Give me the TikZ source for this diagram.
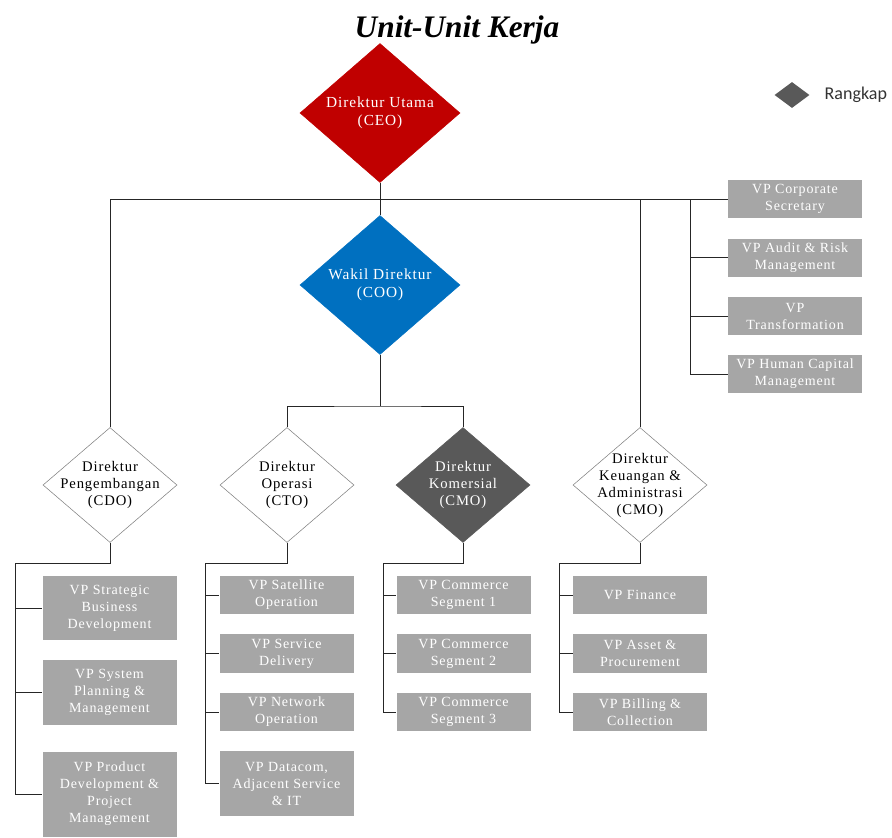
\documentclass[tikz,border=0pt]{standalone}
\usepackage{fontspec}
\setmainfont{Liberation Serif}
\newfontfamily\spacedfont[LetterSpace=6]{Liberation Serif}
\newfontfamily\legendfont{Carlito}
\usetikzlibrary{shapes.geometric,positioning}
\definecolor{ceored}{HTML}{C00000}
\definecolor{cooblue}{HTML}{0070C0}
\definecolor{rangkap}{HTML}{595959}
\definecolor{vpgray}{HTML}{A6A6A6}
\newcommand{\px}{0.75pt}

\begin{document}
\begin{tikzpicture}[x=\px,y=-\px,
	every label/.style={align=center,font=\spacedfont\fontsize{11}{12.75}\selectfont},
	title/.style={font=\fontsize{23.5}{27}\selectfont\bfseries\itshape},
	dir/.style={diamond,draw=gray,thin,fill=white,inner sep=0pt,minimum width=134*\px,minimum height=115*\px},
	bigdir/.style={dir,minimum width=160*\px,minimum height=139*\px},
	vp/.style={rectangle,fill=vpgray,text=white,align=center,inner sep=1pt,minimum width=134*\px,minimum height=38*\px,font=\spacedfont\fontsize{10.5}{12.75}\selectfont},
	link/.style={draw=black!85,line width=0.6pt}]
	\useasboundingbox (0,0) rectangle (892,838);
	\node[title] (title) at (457,30) {Unit-Unit Kerja};
	% direksi
	\node[bigdir,fill=ceored,draw=ceored,label={[text=white,font=\spacedfont\fontsize{11.5}{13.5}\selectfont]center:Direktur Utama\\(CEO)}] (ceo) at (380,113) {};
	\node[bigdir,fill=cooblue,draw=cooblue,label={[text=white,font=\spacedfont\fontsize{11.5}{13.5}\selectfont]center:Wakil Direktur\\(COO)}] (coo) at (380,285) {};
	\node[dir,label=center:Direktur\\Pengembangan\\(CDO)] (cdo) at (110,485) {};
	\node[dir,label=center:Direktur\\Operasi\\(CTO)] (cto) at (287,485) {};
	\node[dir,fill=rangkap,draw=rangkap,label={[text=white]center:Direktur\\Komersial\\(CMO)}] (cmo) at (463,485) {};
	\node[dir,label=center:Direktur\\Keuangan \&\\Administrasi\\(CMO)] (cfo) at (640,485) {};
	% legenda
	\node[diamond,fill=rangkap,inner sep=0pt,minimum width=35*\px,minimum height=26*\px] (legend) at (792,95) {};
	\node[right=11pt of legend,inner sep=0pt,font=\legendfont\fontsize{13.5}{16}\selectfont,text=black!80] (legendtext) {Rangkap};
	% VP di bawah CEO
	\node[vp] (vpcs) at (795,199) {VP Corporate\\Secretary};
	\node[vp] (vpar) at (795,257.5) {VP Audit \& Risk\\Management};
	\node[vp] (vptr) at (795,316) {VP\\Transformation};
	\node[vp] (vphc) at (795,374) {VP Human Capital\\Management};
	% VP di bawah CDO
	\node[vp,minimum height=64*\px] (vpsbd) at (109.5,608) {VP Strategic\\Business\\Development};
	\node[vp,minimum height=65*\px] (vpspm) at (109.5,692.5) {VP System\\Planning \&\\Management};
	\node[vp,minimum height=85*\px] (vppd) at (109.5,794) {VP Product\\Development \&\\Project\\Management};
	% VP di bawah CTO
	\node[vp] (vpso) at (286.5,595) {VP Satellite\\Operation};
	\node[vp,minimum height=39*\px] (vpsd) at (286.5,653.5) {VP Service\\Delivery};
	\node[vp] (vpno) at (286.5,712) {VP Network\\Operation};
	\node[vp,minimum height=65*\px] (vpdc) at (286.5,783.5) {VP Datacom,\\Adjacent Service\\\& IT};
	% VP di bawah CMO
	\node[vp] (vpcs1) at (463.5,595) {VP Commerce\\Segment 1};
	\node[vp,minimum height=39*\px] (vpcs2) at (463.5,653.5) {VP Commerce\\Segment 2};
	\node[vp] (vpcs3) at (463.5,712) {VP Commerce\\Segment 3};
	% VP di bawah CFO
	\node[vp] (vpfin) at (640,595) {VP Finance};
	\node[vp,minimum height=39*\px] (vpap) at (640,653.5) {VP Asset \&\\Procurement};
	\node[vp] (vpbc) at (640,712) {VP Billing \&\\Collection};
	% garis
	\coordinate (rbus) at (690,199);
	\coordinate (cooj) at (380,406);
	\draw[link] (cdo.north) |- (vpcs.west);
	\draw[link] (ceo.south) -- (coo.north);
	\draw[link] (cfo.north) -- (cfo.north |- vpcs.west);
	\foreach \b in {vpar,vptr,vphc}
		\draw[link] (rbus) |- (\b.west);
	\draw[link] (coo.south) -- (cooj);
	\draw[link] (cto.north) |- (cooj) -| (cmo.north);
	\coordinate (cdoj) at (15,563);
	\coordinate (ctoj) at (205,563);
	\coordinate (cmoj) at (383,563);
	\coordinate (cfoj) at (559,563);
	\draw[link] (cdo.south) |- (cdoj);
	\draw[link] (cto.south) |- (ctoj);
	\draw[link] (cmo.south) |- (cmoj);
	\draw[link] (cfo.south) |- (cfoj);
	\foreach \b in {vpsbd,vpspm,vppd}
		\draw[link] (cdoj) |- (\b.west);
	\foreach \b in {vpso,vpsd,vpno,vpdc}
		\draw[link] (ctoj) |- (\b.west);
	\foreach \b in {vpcs1,vpcs2,vpcs3}
		\draw[link] (cmoj) |- (\b.west);
	\foreach \b in {vpfin,vpap,vpbc}
		\draw[link] (cfoj) |- (\b.west);
\end{tikzpicture}
\end{document}
